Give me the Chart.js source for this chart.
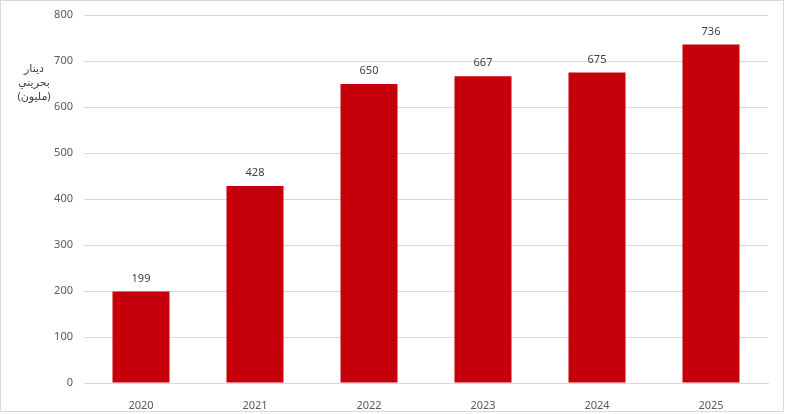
<!DOCTYPE html>
<html>
<head>
<meta charset="utf-8">
<script src="https://cdn.jsdelivr.net/npm/chart.js@4"></script>
<style>
  html, body { margin: 0; padding: 0; background: #fff; }
  #frame { position: absolute; left: 0; top: 0; width: 782px; height: 410px; border: 1px solid #d9d9d9; }
  canvas { display: block; }
</style>
</head>
<body>
<div id="frame"><canvas id="chart" width="782" height="410"></canvas></div>
<script>
const years = ['2020', '2021', '2022', '2023', '2024', '2025'];
const values = [199, 428, 650, 667, 675, 736];
const yTitle = ['دينار', 'بحريني', '(مليون)'];

const font = '"Noto Sans", "Open Sans", sans-serif';

// numbers above each bar
const valueLabels = {
  id: 'valueLabels',
  afterDatasetsDraw(chart) {
    const ctx = chart.ctx;
    const meta = chart.getDatasetMeta(0);
    ctx.save();
    ctx.font = '11px ' + font;
    ctx.fillStyle = '#404040';
    ctx.textAlign = 'center';
    ctx.textBaseline = 'middle';
    meta.data.forEach((bar, i) => {
      ctx.fillText(values[i], bar.x, bar.y - 13);
    });
    ctx.restore();
  }
};

// arabic unit title, three lines left of the axis
const axisTitle = {
  id: 'axisTitle',
  afterDraw(chart) {
    const ctx = chart.ctx;
    const y = chart.scales.y;
    ctx.save();
    ctx.font = '11px "Noto Sans", "DejaVu Sans", sans-serif';
    ctx.fillStyle = '#404040';
    ctx.textAlign = 'center';
    ctx.textBaseline = 'middle';
    ctx.direction = 'rtl';
    const top = y.getPixelForValue(700) + 8;
    yTitle.forEach((t, i) => ctx.fillText(t, 33, top + i * 14));
    ctx.restore();
  }
};

new Chart(document.getElementById('chart'), {
  type: 'bar',
  data: {
    labels: years,
    datasets: [{
      data: values,
      backgroundColor: '#C5000B',
      categoryPercentage: 1,
      barPercentage: 0.5
    }]
  },
  options: {
    responsive: false,
    animation: false,
    layout: { padding: { top: 14, right: 15, bottom: 0, left: 0 } },
    plugins: { legend: { display: false }, tooltip: { enabled: false } },
    scales: {
      x: {
        grid: { display: false },
        border: { color: '#d9d9d9' },
        ticks: { color: '#595959', font: { family: font, size: 11 }, padding: 8 },
        afterFit(s) { s.height = 28; }
      },
      y: {
        min: 0,
        max: 800,
        ticks: { stepSize: 100, color: '#595959', font: { family: font, size: 11 }, padding: 11 },
        grid: { color: '#d9d9d9', drawTicks: false },
        border: { display: false },
        afterFit(s) { s.width = 83; s.paddingTop = 0; s.paddingBottom = 0; }
      }
    }
  },
  plugins: [valueLabels, axisTitle]
});
</script>
</body>
</html>
